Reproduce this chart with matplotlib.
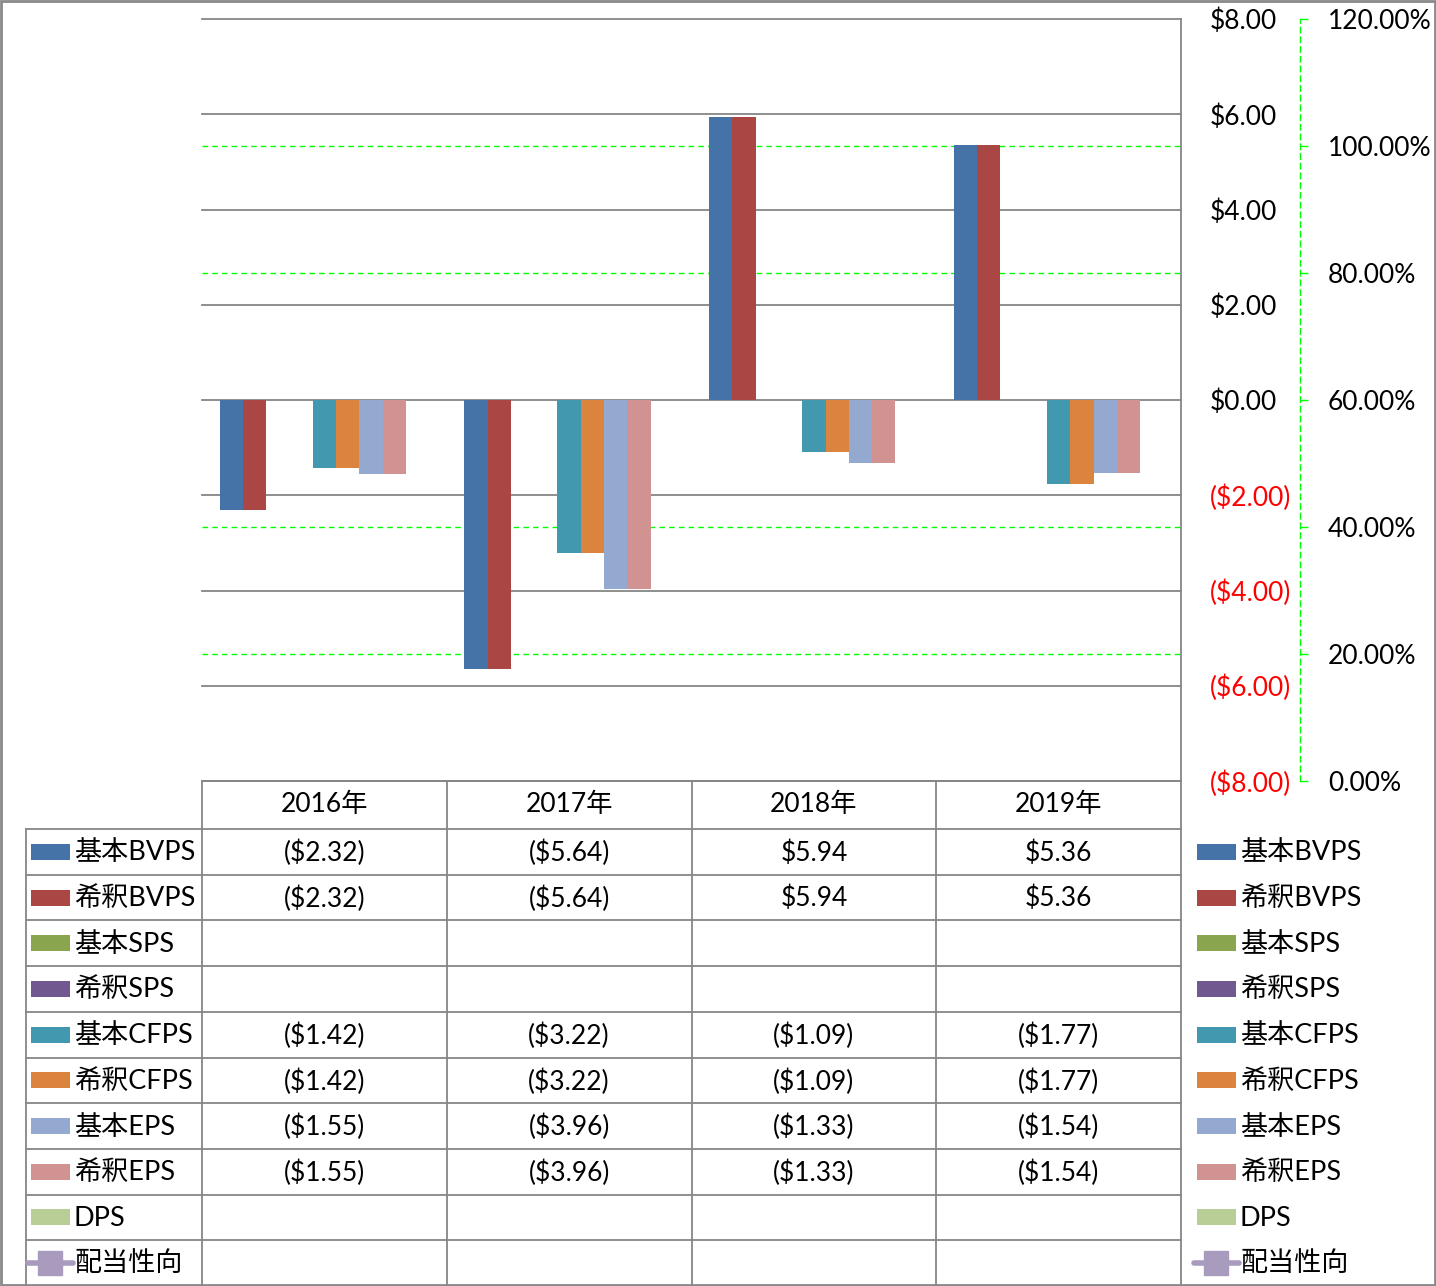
# Per-share metrics chart with data table (Excel style)

import matplotlib.pyplot as plt
import numpy as np
from matplotlib.patches import Rectangle
from matplotlib.ticker import FixedLocator, FuncFormatter

plt.rcParams['font.family'] = ['Lato', 'Noto Sans CJK JP', 'DejaVu Sans']

# data
years = ['2016年', '2017年', '2018年', '2019年']
series_names = ['基本BVPS', '希釈BVPS', '基本SPS', '希釈SPS', '基本CFPS',
                '希釈CFPS', '基本EPS', '希釈EPS', 'DPS']
nan = np.nan
basic_bvps = [-2.32, -5.64, 5.94, 5.36]
diluted_bvps = [-2.32, -5.64, 5.94, 5.36]
basic_sps = [nan, nan, nan, nan]
diluted_sps = [nan, nan, nan, nan]
basic_cfps = [-1.42, -3.22, -1.09, -1.77]
diluted_cfps = [-1.42, -3.22, -1.09, -1.77]
basic_eps = [-1.55, -3.96, -1.33, -1.54]
diluted_eps = [-1.55, -3.96, -1.33, -1.54]
dps = [nan, nan, nan, nan]
payout_name = '配当性向'
payout_ratio = [nan, nan, nan, nan]

bar_values = [basic_bvps, diluted_bvps, basic_sps, diluted_sps, basic_cfps,
              diluted_cfps, basic_eps, diluted_eps, dps]
colors = ['#4572A7', '#AA4643', '#89A54E', '#71588F', '#4198AF',
          '#DB843D', '#93A9CF', '#D19392', '#B9CD96']
payout_color = '#A99BBD'

W, H = 1436, 1286
fig = plt.figure(figsize=(W / 100, H / 100), dpi=100)

# main plot area in pixels: x 202..1181, y 19..781
left, right, top, bottom = 202, 1181, 19, 781
ax = fig.add_axes([left / W, 1 - bottom / H, (right - left) / W, (bottom - top) / H])
ax2 = ax.twinx()
ax.set_zorder(ax2.get_zorder() + 1)
ax.patch.set_visible(False)

x = np.arange(len(years))
bw = 0.095
for i, (vals, col) in enumerate(zip(bar_values, colors)):
    ax.bar(x + (i - 4) * bw, vals, width=bw, color=col, label=series_names[i], zorder=3)

ax.set_xlim(-0.5, len(years) - 0.5)
ax.set_ylim(-8, 8)
ax.set_xticks([])
ax.yaxis.tick_right()
ax.yaxis.set_major_locator(FixedLocator(np.arange(-8, 9, 2)))
ax.yaxis.set_major_formatter(FuncFormatter(
    lambda v, p: f'${v:.2f}' if v >= 0 else f'(${-v:.2f})'))
ax.tick_params(axis='y', length=0, pad=21, labelsize=19)
ax.grid(axis='y', color='#868686', lw=1.3)
ax.set_axisbelow(True)
for s in ['top', 'left', 'bottom']:
    ax.spines[s].set_visible(False)
ax.spines['right'].set_color('#868686')
ax.spines['right'].set_linewidth(1.3)
fig.canvas.draw()
for lab, v in zip(ax.get_yticklabels(), ax.get_yticks()):
    lab.set_color('red' if v < 0 else 'black')
for gl in ax.get_ygridlines():
    gl.set_clip_on(False)

# secondary axis for payout ratio
ax2.plot(x, payout_ratio, color=payout_color, lw=4, marker='s', ms=14)
ax2.set_ylim(0, 1.2)
pct_ticks = np.arange(0, 1.21, 0.2)
ax2.yaxis.set_major_locator(FixedLocator(pct_ticks))
ax2.yaxis.set_major_formatter(FuncFormatter(lambda v, p: f'{v * 100:.2f}%'))
ax2.tick_params(axis='y', direction='out', length=6, color='#00FF00', width=1,
                pad=14, labelsize=19)
# green dashed gridlines; the ones on top of grey lines are hidden in the original
for v in pct_ticks:
    if round(v, 2) not in (0.0, 0.6, 1.2):
        ax2.axhline(v, color='#00FF00', ls=(0, (4, 3)), lw=1)
for s in ['top', 'left', 'bottom']:
    ax2.spines[s].set_visible(False)
ax2.spines['right'].set_position(('axes', 1 + 119 / (right - left)))
ax2.spines['right'].set_color('#00FF00')
ax2.spines['right'].set_linestyle((0, (4, 3)))
ax2.spines['right'].set_linewidth(1)

# data table + legend drawn in pixel coordinates
tb = fig.add_axes([0, 0, 1, 1])
tb.set_xlim(0, W)
tb.set_ylim(H, 0)
tb.axis('off')

grid_col = '#868686'
col_edges = np.linspace(left, right, len(years) + 1)
row_edges = np.linspace(829, H, 11)
head_top = bottom

tb.plot([left, right], [head_top, head_top], color=grid_col, lw=1.3)
for yy in row_edges[:-1]:
    tb.plot([26, right], [yy, yy], color=grid_col, lw=1.3)
tb.plot([26, 26], [row_edges[0], H], color=grid_col, lw=1.3)
for xx in col_edges:
    tb.plot([xx, xx], [head_top, H], color=grid_col, lw=1.3)

for j, yr in enumerate(years):
    tb.text((col_edges[j] + col_edges[j + 1]) / 2, (head_top + row_edges[0]) / 2, yr,
            ha='center', va='center', fontsize=19)


def fmt(v):
    if np.isnan(v):
        return ''
    return f'${v:.2f}' if v >= 0 else f'(${-v:.2f})'


names_all = series_names + [payout_name]
rows_all = bar_values + [payout_ratio]
for r, (name, vals) in enumerate(zip(names_all, rows_all)):
    yc = (row_edges[r] + row_edges[r + 1]) / 2
    # legend key in table and in the right-hand legend
    for kx, tx in [(31, 74), (1197, 1240)]:
        if r < len(colors):
            tb.add_patch(Rectangle((kx, yc - 8), 39, 16, color=colors[r], lw=0))
        else:
            tb.plot([kx - 3, kx + 42], [yc, yc], color=payout_color, lw=4,
                    solid_capstyle='round')
            tb.plot([kx + 19], [yc], marker='s', ms=17, color=payout_color)
        tb.text(tx, yc + 1, name, ha='left', va='center', fontsize=19.5)
    if r < len(colors):
        for j, v in enumerate(vals):
            tb.text((col_edges[j] + col_edges[j + 1]) / 2, yc + 1, fmt(v),
                    ha='center', va='center', fontsize=19)

tb.add_patch(Rectangle((1, 1), W - 2, H - 2, fill=False, edgecolor='#898989', lw=2))

fig.savefig('out.png', dpi=100)
